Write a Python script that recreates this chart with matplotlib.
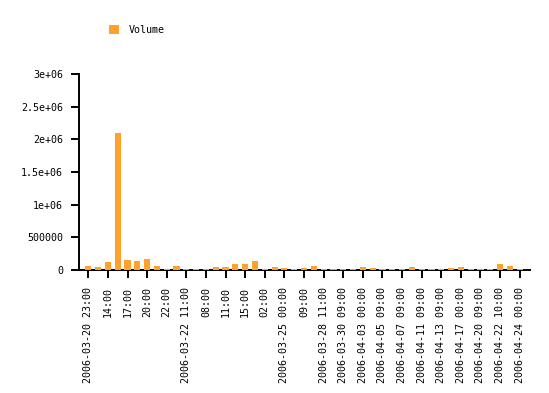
import matplotlib
matplotlib.use('Agg')
import matplotlib.pyplot as plt
import numpy as np

# bar values (one per hour bucket)
volume = [55000, 50000, 115000, 2100000, 150000, 135000, 165000, 65000, 15000, 55000,
          15000, 15000, 15000, 40000, 40000, 85000, 85000, 145000, 15000, 40000,
          25000, 15000, 25000, 55000, 15000, 15000, 15000, 15000, 40000, 25000,
          15000, 15000, 15000, 40000, 15000, 15000, 15000, 25000, 40000, 15000,
          15000, 15000, 85000, 55000, 15000]

# labels shown on every second bar
tick_labels = ['2006-03-20 23:00', '14:00', '17:00', '20:00', '22:00',
               '2006-03-22 11:00', '08:00', '11:00', '15:00', '02:00',
               '2006-03-25 00:00', '09:00', '2006-03-28 11:00', '2006-03-30 09:00',
               '2006-04-03 00:00', '2006-04-05 09:00', '2006-04-07 09:00',
               '2006-04-11 09:00', '2006-04-13 09:00', '2006-04-17 00:00',
               '2006-04-20 09:00', '2006-04-22 10:00', '2006-04-24 00:00']

y_ticks = [0, 500000, 1000000, 1500000, 2000000, 2500000, 3000000]
y_labels = ['0', '500000', '1e+06', '1.5e+06', '2e+06', '2.5e+06', '3e+06']

bar_color = '#ffa12b'
font = 'DejaVu Sans Mono'
fs = 7.2

fig = plt.figure(figsize=(5.49, 3.93), dpi=100)
ax = fig.add_axes([79/549, 1 - 270/393, (530 - 79)/549, (270 - 74)/393])

x = np.arange(len(volume))
# bars sit on top of the axis line, like the original
bars = ax.bar(x, volume, width=0.63, color=bar_color, label='Volume', zorder=3)

ax.set_xlim(-0.95, len(volume) + 0.05)
ax.set_ylim(0, 3000000)

ax.set_xticks(x[::2])
ax.set_xticklabels(tick_labels, rotation=90, fontfamily=font, fontsize=fs)
ax.set_yticks(y_ticks)
ax.set_yticklabels(y_labels, fontfamily=font, fontsize=fs)

ax.tick_params(axis='x', length=5.5, width=1.4, pad=6.5)
ax.tick_params(axis='y', length=5.8, width=1.4, pad=5.8)

for s in ['top', 'right']:
    ax.spines[s].set_visible(False)
for s in ['left', 'bottom']:
    ax.spines[s].set_linewidth(1.4)
    ax.spines[s].set_zorder(0.5)

fig.legend(handles=[bars], labels=['Volume'], loc='upper left',
           bbox_to_anchor=(107/549, 1 - 23/393), frameon=False,
           handlelength=1.0, handleheight=1.0, handletextpad=1.0,
           borderaxespad=0, borderpad=0.2, prop={'family': font, 'size': fs})

fig.savefig('out.png', dpi=100)
